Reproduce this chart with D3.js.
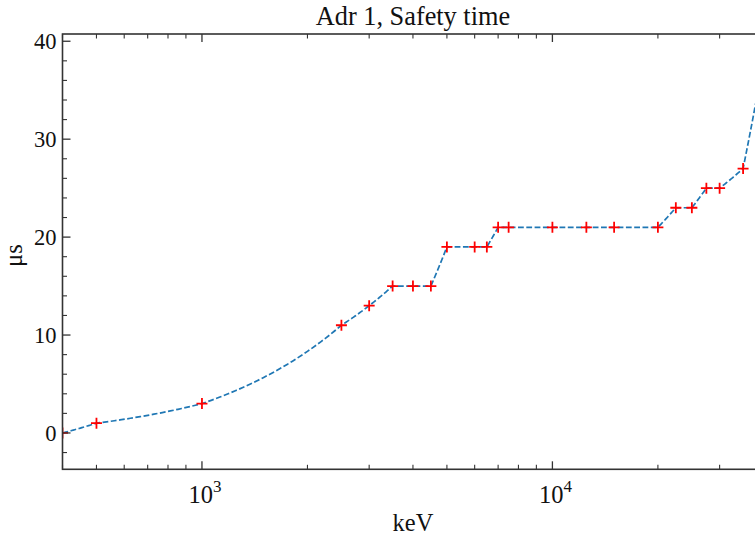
<!DOCTYPE html>
<html>
<head>
<meta charset="utf-8">
<script src="https://cdn.jsdelivr.net/npm/d3@7"></script>
<style>
  html, body { margin: 0; padding: 0; background: #fff; }
  svg { display: block; font-family: "Liberation Serif", "DejaVu Serif", serif; }
</style>
</head>
<body>
<svg id="chart" width="755" height="538"></svg>
<script>
(function() {
  'use strict';

  // 데이터 (keV, µs)
  const energies = [400, 500, 1000, 2500, 3000, 3500, 4000, 4500, 5000, 6000, 6500,
    7000, 7500, 10000, 12500, 15000, 20000, 22500, 25000, 27500, 30000, 35000, 40000];
  const safetyTimes = [0, 1, 3, 11, 13, 15, 15, 15, 19, 19, 19,
    21, 21, 21, 21, 21, 21, 23, 23, 25, 25, 27, 38];

  const yTicks = [0, 10, 20, 30, 40];
  const xMajorTicks = [1000, 10000];
  const xMajorLabels = ['3', '4'];

  const titleText = 'Adr 1, Safety time';
  const xLabelText = 'keV';
  const yLabelText = 'μs';

  // 레이아웃
  const left = 62.5, right = 763.4, top = 34, bottom = 469.3;
  const axisColor = '#333';

  const svg = d3.select('#chart');

  const x = d3.scaleLog().domain([400, 40000]).range([left, right]);
  const y = d3.scaleLinear().domain([-3.71, 40.74]).range([bottom, top]);

  svg.append('defs').append('clipPath').attr('id', 'plotClip')
    .append('rect')
    .attr('x', left).attr('y', top)
    .attr('width', right - left).attr('height', bottom - top);

  const plot = svg.append('g').attr('clip-path', 'url(#plotClip)');

  // 선: 데이터 공간에서 직선으로 이어지는 구간을 로그 축 위에 그림
  const pts = energies.map((e, i) => [e, safetyTimes[i]]);
  const path = d3.path();
  pts.forEach((p, i) => {
    if (i === 0) { path.moveTo(x(p[0]), y(p[1])); return; }
    const p0 = pts[i - 1];
    const steps = 24;
    for (let s = 1; s <= steps; s++) {
      const t = s / steps;
      path.lineTo(x(p0[0] + (p[0] - p0[0]) * t), y(p0[1] + (p[1] - p0[1]) * t));
    }
  });

  plot.append('path')
    .attr('d', path.toString())
    .attr('fill', 'none')
    .attr('stroke', '#1f77b4')
    .attr('stroke-width', 1.7)
    .attr('stroke-dasharray', '5.8,2.5');

  // + 마커
  const m = 5.5;
  plot.selectAll('.marker')
    .data(pts)
    .enter()
    .append('path')
    .attr('class', 'marker')
    .attr('d', d => `M${x(d[0]) - m},${y(d[1])}H${x(d[0]) + m}M${x(d[0])},${y(d[1]) - m}V${y(d[1]) + m}`)
    .attr('stroke', '#ff0000')
    .attr('stroke-width', 1.8)
    .attr('fill', 'none');

  // 축 (틱은 안쪽 방향)
  const yMinor = d3.range(-2, 41, 2).filter(v => v % 10 !== 0);
  const xMinor = [];
  [100, 1000, 10000].forEach(dec => {
    for (let k = 2; k <= 9; k++) {
      const v = dec * k;
      if (v >= 400 && v <= 40000) xMinor.push(v);
    }
  });

  const axisG = svg.append('g').attr('stroke', axisColor).attr('fill', 'none');

  // 세로 틱 (좌/우)
  [[left, 1], [right, -1]].forEach(([sx, dir]) => {
    yTicks.forEach(v => {
      axisG.append('line').attr('x1', sx).attr('x2', sx + dir * 8)
        .attr('y1', y(v)).attr('y2', y(v)).attr('stroke-width', 1.3);
    });
    yMinor.forEach(v => {
      axisG.append('line').attr('x1', sx).attr('x2', sx + dir * 4.5)
        .attr('y1', y(v)).attr('y2', y(v)).attr('stroke-width', 1.1);
    });
  });

  // 가로 틱 (위/아래)
  [[bottom, -1], [top, 1]].forEach(([sy, dir]) => {
    xMajorTicks.forEach(v => {
      axisG.append('line').attr('y1', sy).attr('y2', sy + dir * 8)
        .attr('x1', x(v)).attr('x2', x(v)).attr('stroke-width', 1.3);
    });
    xMinor.forEach(v => {
      axisG.append('line').attr('y1', sy).attr('y2', sy + dir * 4.5)
        .attr('x1', x(v)).attr('x2', x(v)).attr('stroke-width', 1.1);
    });
  });

  // 프레임
  axisG.append('rect')
    .attr('x', left).attr('y', top)
    .attr('width', right - left).attr('height', bottom - top)
    .attr('stroke-width', 1.6);

  // 눈금 라벨
  svg.selectAll('.ylab')
    .data(yTicks)
    .enter()
    .append('text')
    .attr('class', 'ylab')
    .attr('x', left - 6)
    .attr('y', d => y(d))
    .attr('dy', '0.34em')
    .attr('text-anchor', 'end')
    .attr('font-size', '22.5px')
    .attr('fill', '#111')
    .text(d => d);

  const xl = svg.selectAll('.xlab')
    .data(xMajorTicks)
    .enter()
    .append('text')
    .attr('class', 'xlab')
    .attr('x', d => x(d) + 3)
    .attr('y', 503)
    .attr('text-anchor', 'middle')
    .attr('font-size', '24.5px')
    .attr('fill', '#111');
  xl.append('tspan').text('10');
  xl.append('tspan')
    .attr('dy', -11)
    .attr('font-size', '17px')
    .text((d, i) => xMajorLabels[i]);

  // 제목 / 축 제목
  svg.append('text')
    .attr('x', (left + right) / 2)
    .attr('y', 25)
    .attr('text-anchor', 'middle')
    .attr('font-size', '26.3px')
    .attr('fill', '#111')
    .text(titleText);

  svg.append('text')
    .attr('x', (left + right) / 2)
    .attr('y', 531)
    .attr('text-anchor', 'middle')
    .attr('font-size', '24.5px')
    .attr('fill', '#111')
    .text(xLabelText);

  svg.append('text')
    .attr('transform', `translate(22,${(top + bottom) / 2 + 4}) rotate(-90)`)
    .attr('text-anchor', 'middle')
    .attr('font-size', '24.5px')
    .attr('fill', '#111')
    .text(yLabelText);
})();
</script>
</body>
</html>
